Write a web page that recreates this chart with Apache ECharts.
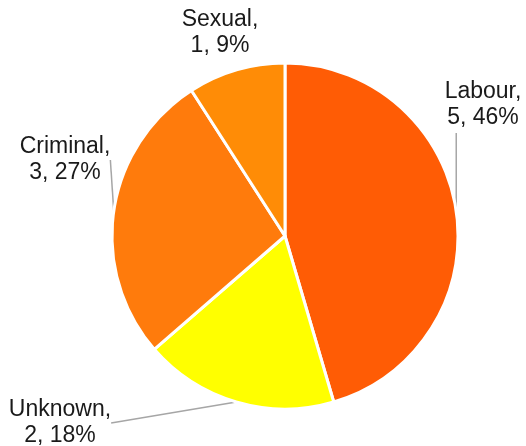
<!DOCTYPE html>
<html>
<head>
<meta charset="utf-8">
<script src="https://cdn.jsdelivr.net/npm/echarts@6/dist/echarts.min.js"></script>
<style>
  html, body { margin: 0; padding: 0; background: #fff; }
  #chart { width: 526px; height: 446px; }
</style>
</head>
<body>
<div id="chart"></div>
<script>
// slice data, clockwise from 12 o'clock
const categories = ['Labour', 'Unknown', 'Criminal', 'Sexual']
const counts = [5, 2, 3, 1]
const colors = ['#FF5C05', '#FFFF00', '#FF7B0C', '#FF8C06']

// where each label sits (center of the text block)
const labelSpots = [
  [483, 105],
  [60, 423],
  [65, 160],
  [220, 33]
]

const myChart = echarts.init(document.getElementById('chart'))

const options = {
  animation: false,
  series: [
    {
      type: 'pie',
      center: [285, 236],
      radius: [0, 173],
      startAngle: 90,
      clockwise: true,
      percentPrecision: 0,
      avoidLabelOverlap: false,
      itemStyle: { borderColor: '#fff', borderWidth: 3 },
      label: {
        show: true,
        position: 'outside',
        formatter: '{b},\n{c}, {d}%',
        fontFamily: 'Liberation Sans, Arial, sans-serif',
        fontSize: 23,
        lineHeight: 26,
        color: '#1a1a1a',
        align: 'center',
        overflow: 'none'
      },
      labelLine: {
        show: true,
        length: 10,
        length2: 0,
        lineStyle: { color: '#A6A6A6', width: 1.5 }
      },
      labelLayout: (params) => {
        const p = labelSpots[params.dataIndex]
        const out = { x: p[0], y: p[1], align: 'center', verticalAlign: 'middle', hideOverlap: false }
        // Labour's leader drops straight down from the label
        if (params.dataIndex === 0 && params.labelLinePoints) {
          const s = params.labelLinePoints[0]
          out.labelLinePoints = [s, [s[0], p[1] + 28]]
        }
        return out
      },
      data: categories.map((name, i) => ({
        name: name,
        value: counts[i],
        itemStyle: { color: colors[i] },
        labelLine: { show: name !== 'Sexual' }
      }))
    }
  ]
}

myChart.setOption(options)
</script>
</body>
</html>
